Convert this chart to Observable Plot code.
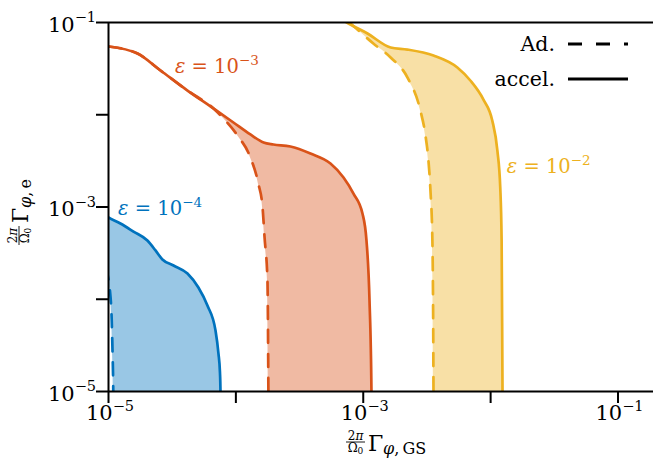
<!DOCTYPE html>
<html><head><meta charset="utf-8">
<script src="https://cdn.jsdelivr.net/npm/d3@7"></script>
<script src="https://cdn.jsdelivr.net/npm/@observablehq/plot@0.6"></script>
<style>
body{margin:0;background:#fff;}
#chart{position:relative;width:653px;height:464px;overflow:hidden;}
</style></head><body><div id="chart"></div>
<script>
// ---- scales / ticks ----
const xDomain = [1e-5, 0.19];
const yDomain = [1e-5, 1e-1];
const xTicks = [1e-5, 1e-4, 1e-3, 1e-2, 1e-1];
const yTicks = [1e-5, 1e-4, 1e-3, 1e-2, 1e-1];
const xTickLabelVals = [1e-5, 1e-3, 1e-1];
const xTickLabelExps = ["−5", "−3", "−1"];
const yTickLabelVals = [1e-5, 1e-3, 1e-1];
const yTickLabelExps = ["−5", "−3", "−1"];

// ---- series: epsilon = 1e-4 (blue) ----
const e4AccelX = [8.66e-6, 1.0e-5, 1.24e-5, 1.57e-5, 2.02e-5, 2.34e-5, 2.65e-5, 3.24e-5, 4.17e-5, 5.08e-5, 5.98e-5, 6.92e-5, 7.30e-5, 7.50e-5, 7.57e-5, 7.59e-5];
const e4AccelY = [8.71e-4, 7.69e-4, 6.62e-4, 5.42e-4, 4.33e-4, 3.38e-4, 2.70e-4, 2.32e-4, 1.90e-4, 1.34e-4, 8.55e-5, 4.58e-5, 2.58e-5, 1.61e-5, 1.0e-5, 5.0e-6];
const e4AdX = [8.5e-6, 9.31e-6, 1.03e-5, 1.06e-5, 1.075e-5, 1.09e-5, 1.095e-5];
const e4AdY = [4.0e-4, 2.50e-4, 1.18e-4, 5.89e-5, 2.78e-5, 1.0e-5, 5.0e-6];

// ---- series: epsilon = 1e-3 (orange) ----
const e3AccelX = [1.0e-5, 1.69e-5, 2.56e-5, 4.17e-5, 6.67e-5, 9.57e-5, 1.30e-4, 1.65e-4, 1.97e-4, 2.68e-4, 3.85e-4, 5.53e-4, 7.00e-4, 8.38e-4, 9.86e-4, 1.06e-3, 1.12e-3, 1.16e-3, 1.165e-3];
const e3AccelY = [5.49e-2, 4.61e-2, 3.02e-2, 1.83e-2, 1.17e-2, 8.24e-3, 6.11e-3, 5.00e-3, 4.76e-3, 4.53e-3, 3.80e-3, 2.96e-3, 2.09e-3, 1.40e-3, 8.51e-4, 4.34e-4, 9.68e-5, 1.0e-5, 5.0e-6];
const e3AdX = [1.0e-5, 1.69e-5, 2.56e-5, 4.17e-5, 6.67e-5, 8.00e-5, 1.03e-4, 1.30e-4, 1.50e-4, 1.62e-4, 1.68e-4, 1.77e-4, 1.80e-4, 1.805e-4];
const e3AdY = [5.49e-2, 4.61e-2, 3.02e-2, 1.83e-2, 1.17e-2, 9.10e-3, 5.96e-3, 3.44e-3, 1.80e-3, 9.88e-4, 4.67e-4, 1.60e-4, 1.0e-5, 5.0e-6];

// ---- series: epsilon = 1e-2 (yellow) ----
const e2AccelX = [6.05e-4, 7.66e-4, 1.08e-3, 1.64e-3, 2.22e-3, 3.56e-3, 5.48e-3, 6.93e-3, 8.78e-3, 1.03e-2, 1.13e-2, 1.19e-2, 1.22e-2, 1.24e-2, 1.245e-2];
const e2AccelY = [0.119, 9.75e-2, 7.60e-2, 5.36e-2, 5.09e-2, 4.38e-2, 3.25e-2, 2.35e-2, 1.46e-2, 8.67e-3, 4.09e-3, 1.63e-3, 4.33e-4, 1.0e-5, 5.0e-6];
const e2AdX = [5.6e-4, 6.26e-4, 7.94e-4, 1.20e-3, 1.64e-3, 2.22e-3, 2.81e-3, 3.08e-3, 3.25e-3, 3.37e-3, 3.49e-3, 3.56e-3, 3.565e-3];
const e2AdY = [0.15, 0.128, 9.75e-2, 5.92e-2, 4.18e-2, 2.54e-2, 1.11e-2, 5.96e-3, 3.19e-3, 1.51e-3, 4.33e-4, 1.0e-5, 5.0e-6];

// ---- labels ----
const seriesColors = ["#0072BD", "#D95319", "#EDB120"];
const epsLabelExps = ["−4", "−3", "−2"];
const epsLabelX = [1.2e-5, 3.35e-5, 1.35e-2];
const epsLabelY = [8.09e-4, 2.80e-2, 2.31e-3];
const legendNames = ["Ad.", "accel."];

const pts = (xs, ys) => xs.map((x, i) => ({x, y: ys[i]}));
const series = [
  {accel: pts(e4AccelX, e4AccelY), ad: pts(e4AdX, e4AdY)},
  {accel: pts(e3AccelX, e3AccelY), ad: pts(e3AdX, e3AdY)},
  {accel: pts(e2AccelX, e2AccelY), ad: pts(e2AdX, e2AdY)}
];

const curve = "monotone-x";
const marks = [];
// filled band between the two curves: colour under the accel curve, then white under the adiabatic curve
[2, 1, 0].forEach(i => {
  const s = series[i];
  marks.push(Plot.areaY(s.accel, {x: "x", y1: 1e-6, y2: "y", fill: seriesColors[i], fillOpacity: 0.4, curve, clip: true}));
  marks.push(Plot.areaY(s.ad, {x: "x", y1: 1e-6, y2: "y", fill: "white", curve, clip: true}));
});
series.forEach((s, i) => {
  marks.push(Plot.line(s.accel, {x: "x", y: "y", stroke: seriesColors[i], strokeWidth: 2.7, curve, clip: true}));
  marks.push(Plot.line(s.ad, {x: "x", y: "y", stroke: seriesColors[i], strokeWidth: 2.7, strokeDasharray: "13,11", curve, clip: true}));
});
marks.push(
  Plot.ruleX([xDomain[0]], {stroke: "black", strokeWidth: 2}),
  Plot.ruleY(yDomain, {stroke: "black", strokeWidth: 2}),
  Plot.axisX(xTicks, {anchor: "bottom", tickSize: 12, strokeWidth: 2, tickFormat: () => "", label: null}),
  Plot.axisY(yTicks, {anchor: "left", tickSize: 12, strokeWidth: 2, tickFormat: () => "", label: null})
);

const plot = Plot.plot({
  width: 653, height: 464,
  marginLeft: 108, marginRight: 0, marginTop: 22, marginBottom: 73,
  x: {type: "log", domain: xDomain},
  y: {type: "log", domain: yDomain},
  style: {fontFamily: "DejaVu Serif", background: "white"},
  marks
});
document.getElementById("chart").appendChild(plot);

// ---- text overlays (positioned through Plot's scales) ----
const sx = plot.scale("x"), sy = plot.scale("y");
const svg = d3.select(plot);
const g = svg.append("g").attr("font-family", "DejaVu Serif").attr("fill", "black").attr("text-anchor", "start");

function supText(parent, x, y, base, exp, anchor, fs, sfs, color, italicBase) {
  const t = parent.append("text").attr("x", x).attr("y", y)
    .attr("text-anchor", anchor).attr("font-size", fs).attr("fill", color || "black");
  if (italicBase) {
    t.append("tspan").attr("font-style", "italic").text(italicBase);
    t.append("tspan").text(" = ");
  }
  t.append("tspan").text(base);
  t.append("tspan").attr("dy", -0.43 * fs).attr("font-size", sfs).text(exp);
  return t;
}

// tick labels
xTickLabelVals.forEach((v, i) => supText(g, sx.apply(v) + 2, 420, "10", xTickLabelExps[i], "middle", 21, 14.5));
yTickLabelVals.forEach((v, i) => supText(g, 96, sy.apply(v) + 9.5, "10", yTickLabelExps[i], "end", 21, 14.5));

// epsilon annotations
epsLabelExps.forEach((e, i) =>
  supText(g, sx.apply(epsLabelX[i]), sy.apply(epsLabelY[i]), "10", e, "start", 19.5, 13.5, seriesColors[i], "ε"));

// axis titles
function axisTitle(parent, transform, subText) {
  const a = parent.append("g").attr("transform", transform);
  const num = a.append("text").attr("x", 9.5).attr("y", -2.5).attr("text-anchor", "middle").attr("font-size", 12);
  num.append("tspan").text("2");
  num.append("tspan").attr("font-style", "italic").text("π");
  a.append("line").attr("x1", 0).attr("x2", 19).attr("y1", 0).attr("y2", 0).attr("stroke", "black").attr("stroke-width", 0.9);
  const den = a.append("text").attr("x", 9.5).attr("y", 10).attr("text-anchor", "middle").attr("font-size", 12);
  den.append("tspan").text("Ω");
  den.append("tspan").attr("font-size", 9).attr("dy", 2).text("0");
  a.append("text").attr("x", 22).attr("y", 9).attr("text-anchor", "start").attr("font-size", 22).text("Γ");
  const sub = a.append("text").attr("x", 37).attr("y", 12).attr("text-anchor", "start").attr("font-size", 16);
  sub.append("tspan").attr("font-style", "italic").text("φ");
  sub.append("tspan").text(",\u2009" + subText);
}
axisTitle(g, "translate(346,442)", "GS");
axisTitle(g, "translate(19,245) rotate(-90)", "e");

// legend
const lg = g.append("g");
const legendDash = ["14,14", null];
legendNames.forEach((name, i) => {
  const yy = 44 + i * 35;
  lg.append("text").attr("x", 555).attr("y", yy + 7).attr("text-anchor", "end").attr("font-size", 20.5).text(name);
  const ln = lg.append("line").attr("x1", 568).attr("x2", 628).attr("y1", yy).attr("y2", yy)
    .attr("stroke", "black").attr("stroke-width", 3);
  if (legendDash[i]) ln.attr("stroke-dasharray", legendDash[i]);
});
</script>
</body></html>
